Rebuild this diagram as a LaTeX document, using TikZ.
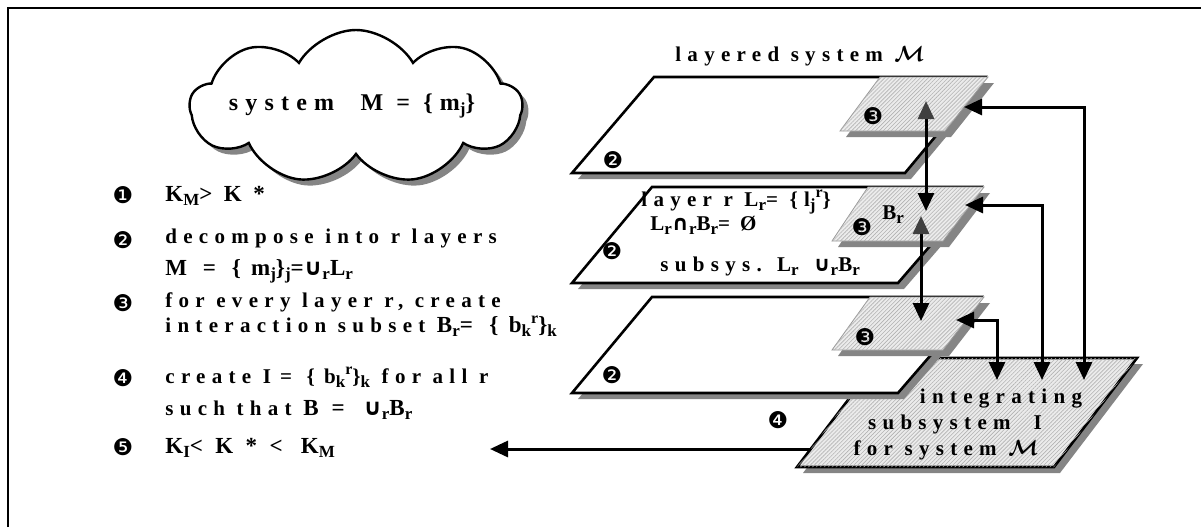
\documentclass[tikz,border=0pt]{standalone}
\usepackage{fontspec}
\usepackage{amsmath}
\setmainfont{Liberation Serif}[LetterSpace=30]
\newfontfamily\dingfont{DejaVu Sans}
\newfontfamily\symfont{DejaVu Sans}[LetterSpace=40]
\usetikzlibrary{arrows.meta,shapes.symbols,patterns.meta,shadows}
\newcommand\sbs[1]{\raisebox{-0.45ex}{\fontsize{8.5}{9}\selectfont #1}}
\newcommand\sps[1]{\raisebox{0.85ex}{\fontsize{8}{9}\selectfont #1}}
\newcommand\calM{$\boldsymbol{\mathcal{M}}$}
\newcommand\cupS{{\symfont\bfseries ∪}}
\newcommand\capS{{\symfont\bfseries ∩}}
\newcommand\frm[2][48]{{\addfontfeatures{LetterSpace=#1}#2}}
\newcommand\slab[5]{%
  \fill[shadowfill] ([shift={(6,6)}]#2) -- ([shift={(6,6)}]#3) -- ([shift={(6,6)}]#4) -- ([shift={(6,6)}]#5) -- cycle;
  \path[#1] (#2) -- (#3) -- (#4) -- (#5) -- cycle;}
\begin{document}
\begin{tikzpicture}[x=0.5pt,y=-0.5pt,
  txt/.style={font=\fontsize{10.5}{12}\selectfont\bfseries, inner sep=0pt, anchor=base west},
  bigtxt/.style={txt, font=\fontsize{11.5}{13}\selectfont\bfseries},
  ctxt/.style={txt, anchor=base},
  num/.style={font=\fontsize{11.5}{12}\selectfont\dingfont, inner sep=0pt},
  shadowfill/.style={fill=black!48},
  layerbox/.style={draw=black, line width=1.3pt, fill=white, line join=miter},
  hatchbox/.style={draw=black!40, line width=0.4pt, fill=black!8,
    postaction={pattern={Lines[angle=45,distance=1.4pt,line width=0.3pt]}, pattern color=black!30}},
  intbox/.style={draw=black, line width=1.3pt, fill=black!8, line join=miter,
    postaction={pattern={Lines[angle=45,distance=1.4pt,line width=0.3pt]}, pattern color=black!30}},
  conn/.style={line width=1.5pt, {Triangle[length=9pt,width=8pt]}-{Triangle[length=9pt,width=8pt]}},
  vconn/.style={line width=1.5pt, {Triangle[length=9pt,width=8pt,color=black!75]}-{Triangle[length=9pt,width=8pt]}},
  oneway/.style={line width=1.5pt, -{Triangle[length=9pt,width=8pt]}}]
\useasboundingbox (0,0) rectangle (1201,527);

% frame
\draw[line width=1.3pt] (8,527) -- (8,8) -- (1201,8);

% cloud
\node[cloud, cloud puffs=9, cloud puff arc=120, aspect=2.5, draw, line width=1.2pt, fill=white,
  minimum width=166pt, minimum height=77pt, inner sep=0pt,
  drop shadow={shadow xshift=3pt, shadow yshift=-3pt, fill=black!48, opacity=1}] (cloud) at (356,107) {};
\node[ctxt, font=\fontsize{12}{13}\selectfont\bfseries] (cloudtxt) at (352,110) {\frm[30]{system \ M = \{m\sbs{j}\}}};

% numbered list
\node[num] (n1) at (123,195) {❶};
\node[bigtxt] (t1) at (165,201) {\frm[50]{K\sbs{M}>K*}};
\node[num] (n2) at (123,240) {❷};
\node[txt] (t2a) at (165,243) {decompose into r layers};
\node[bigtxt] (t2b) at (165,275) {\frm[44]{M = \{m\sbs{j}\}\sbs{j}=\cupS\sbs{r}L\sbs{r}}};
\node[num] (n3) at (123,303) {❸};
\node[txt] (t3a) at (165,307) {for every layer r, create};
\node[txt] (t3b) at (165,332) {interaction subset {\fontsize{11.5}{13}\selectfont\frm[46]{B\sbs{r}= \{b\sbs{k}\sps{r}\}\sbs{k}}}};
\node[num] (n4) at (123,378) {❹};
\node[txt] (t4a) at (165,383) {create \frm[44]{I= \{b\sbs{k}\sps{r}\}\sbs{k}} for all r};
\node[txt] (t4b) at (165,415) {such that {\fontsize{11.5}{13}\selectfont\frm[56]{B= \cupS\sbs{r}B\sbs{r}}}};
\node[num] (n5) at (123,447) {❺};
\node[bigtxt] (t5) at (165,453) {\frm[54]{K\sbs{I}<K*< K\sbs{M}}};

% title
\node[ctxt] (title) at (800,61) {layered system \calM};

% geometry
\coordinate (Ptl) at (880,358); \coordinate (Ptr) at (1137,358);
\coordinate (Pbr) at (1054,467); \coordinate (Pbl) at (797,467);
\coordinate (L1tl) at (654,77); \coordinate (L1tr) at (985,77);
\coordinate (L1br) at (905,173); \coordinate (L1bl) at (572,173);
\coordinate (H1tl) at (880,77); \coordinate (H1tr) at (988,77);
\coordinate (H1br) at (945,131); \coordinate (H1bl) at (840,131);
\coordinate (L2tl) at (652,187); \coordinate (L2tr) at (981,187);
\coordinate (L2br) at (898,283); \coordinate (L2bl) at (572,283);
\coordinate (H2tl) at (868,187); \coordinate (H2tr) at (984,187);
\coordinate (H2br) at (943,241); \coordinate (H2bl) at (832,241);
\coordinate (L3tl) at (652,297); \coordinate (L3tr) at (981,297);
\coordinate (L3br) at (898,393); \coordinate (L3bl) at (572,393);
\coordinate (H3tl) at (870,297); \coordinate (H3tr) at (984,297);
\coordinate (H3br) at (943,350); \coordinate (H3bl) at (832,350);

% integrating subsystem
\slab{intbox}{Ptl}{Ptr}{Pbr}{Pbl}
% layers
\slab{layerbox}{L3tl}{L3tr}{L3br}{L3bl}
\slab{hatchbox}{H3tl}{H3tr}{H3br}{H3bl}
\slab{layerbox}{L2tl}{L2tr}{L2br}{L2bl}
\slab{hatchbox}{H2tl}{H2tr}{H2br}{H2bl}
\slab{layerbox}{L1tl}{L1tr}{L1br}{L1bl}
\slab{hatchbox}{H1tl}{H1tr}{H1br}{H1bl}

% layer labels
\node[num] (l1n2) at (613,160) {❷};
\node[num] (l1n3) at (873,116) {❸};
\node[num] (l2n2) at (612,251) {❷};
\node[num] (l2n3) at (862,227) {❸};
\node[num] (l3n2) at (612,375) {❷};
\node[num] (l3n3) at (865,337) {❸};
\node[num] (n4b) at (778,420) {❹};
\node[txt] (lay1) at (641,206) {layer r L\sbs{r}= \{l\sbs{j}\sps{r}\}};
\node[txt] (lay2) at (650,230) {\frm[48]{L\sbs{r}\capS\sbs{r}B\sbs{r}=Ø}};
\node[txt] (lay3) at (660,271) {subsys. \frm[46]{L\sbs{r} \cupS\sbs{r}B\sbs{r}}};
\node[txt] (brlab) at (882,219) {B\sbs{r}};
\node[ctxt] (int1) at (1001,403) {integrating};
\node[ctxt] (int2) at (955,429) {subsystem \ I};
\node[ctxt] (int3) at (946,455) {for system \calM};

% connectors
\coordinate (a1s) at (926,101); \coordinate (a1e) at (926,211);
\coordinate (a2s) at (921,216); \coordinate (a2e) at (921,321);
\coordinate (c1a) at (964,107); \coordinate (c1b) at (1084,380);
\coordinate (c2a) at (965,205); \coordinate (c2b) at (1042,380);
\coordinate (c3a) at (956,320); \coordinate (c3b) at (997,380);
\coordinate (oa) at (811,449); \coordinate (ob) at (490,449);
\draw[vconn] (a1s) -- (a1e);
\draw[vconn] (a2s) -- (a2e);
\draw[conn] (c1a) -| (c1b);
\draw[conn] (c2a) -| (c2b);
\draw[conn] (c3a) -| (c3b);
\draw[oneway] (oa) -- (ob);
\end{tikzpicture}
\end{document}
